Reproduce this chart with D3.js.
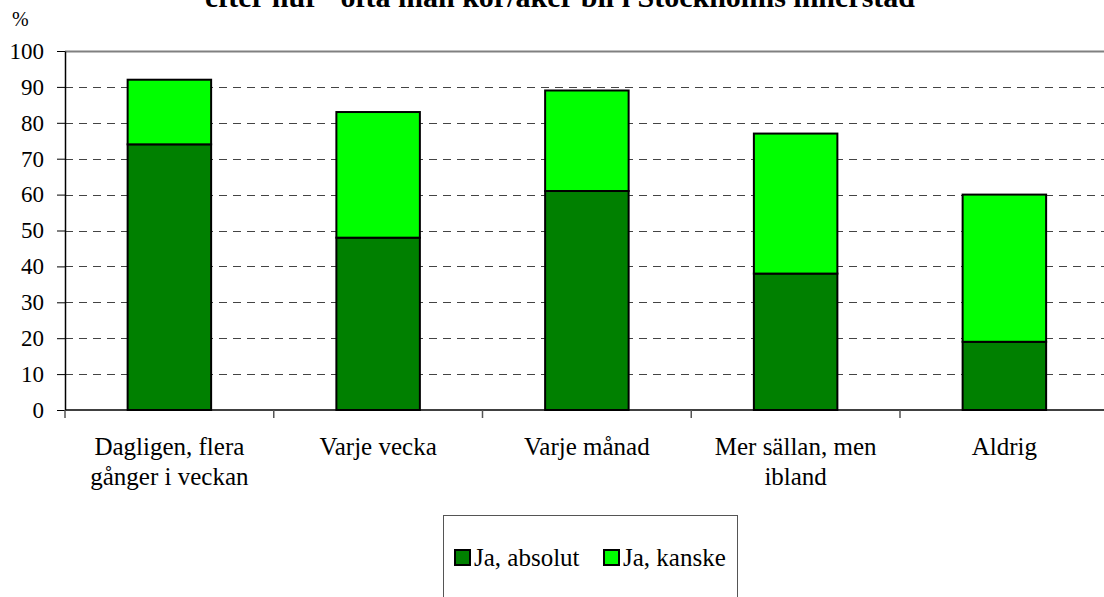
<!DOCTYPE html>
<html lang="sv">
<head>
<meta charset="utf-8">
<title>Bil i innerstaden</title>
<script src="https://cdn.jsdelivr.net/npm/d3@7"></script>
<style>
  body { margin: 0; background: #fff; }
  svg { display: block; }
  svg text { font-family: "Liberation Serif", "Times New Roman", Times, "DejaVu Serif", serif; }
</style>
</head>
<body>
<script>
var categories = ["Dagligen, flera|gånger i veckan", "Varje vecka", "Varje månad", "Mer sällan, men|ibland", "Aldrig"];
var absolut = [74, 48, 61, 38, 19];
var kanske = [18, 35, 28, 39, 41];
var seriesNames = ["Ja, absolut", "Ja, kanske"];
var seriesColors = ["#008000", "#00ff00"];
var yTicks = [0, 10, 20, 30, 40, 50, 60, 70, 80, 90, 100];

var W = 1104, H = 597;
var plotLeft = 65, plotTop = 51, plotBottom = 410;
var bandW = 208.75;

var svg = d3.select("body").append("svg")
  .attr("width", W)
  .attr("height", H);

var x = d3.scaleBand()
  .domain(d3.range(categories.length))
  .range([plotLeft, plotLeft + bandW * categories.length])
  .paddingInner(0.6)
  .paddingOuter(0.3);

var y = d3.scaleLinear().domain([0, 100]).range([plotBottom, plotTop]);

// title (only lower part visible, cut at top)
svg.append("text")
  .attr("x", 560)
  .attr("y", 7)
  .attr("text-anchor", "middle")
  .attr("font-size", 30)
  .attr("font-weight", "bold")
  .text("efter hur \u201dofta man kör/åker bil i Stockholms innerstad");

// grid
svg.append("g").selectAll("line")
  .data(yTicks.filter(function(d) { return d > 0; }))
  .enter().append("line")
  .attr("x1", plotLeft).attr("x2", W)
  .attr("y1", function(d) { return Math.round(y(d)) + 0.5; })
  .attr("y2", function(d) { return Math.round(y(d)) + 0.5; })
  .attr("stroke", function(d) { return d === 100 ? "#808080" : "#444"; })
  .attr("stroke-width", function(d) { return d === 100 ? 2 : 1; })
  .attr("stroke-dasharray", function(d) { return d === 100 ? null : "8,6"; });

// stacked bars
var stackData = categories.map(function(c, i) { return { i: i, a: absolut[i], k: kanske[i] }; });
var stack = d3.stack().keys(["a", "k"])(stackData);

svg.append("g").selectAll("g")
  .data(stack)
  .enter().append("g")
  .attr("fill", function(d, i) { return seriesColors[i]; })
  .selectAll("rect")
  .data(function(d) { return d; })
  .enter().append("rect")
  .attr("x", function(d) { return x(d.data.i); })
  .attr("width", x.bandwidth())
  .attr("y", function(d) { return y(d[1]); })
  .attr("height", function(d) { return y(d[0]) - y(d[1]); })
  .attr("stroke", "#000")
  .attr("stroke-width", 2);

// y axis
var yAxis = svg.append("g")
  .attr("transform", "translate(" + plotLeft + ",0)")
  .call(d3.axisLeft(y).tickValues(yTicks).tickSize(8).tickPadding(13).tickSizeOuter(0));
yAxis.selectAll("text").attr("font-size", 23).attr("fill", "#000");
yAxis.selectAll("line").attr("stroke", "#000");
yAxis.select(".domain").attr("stroke", "#000").attr("stroke-width", 1.5);

// x axis
svg.append("line")
  .attr("x1", plotLeft).attr("x2", W)
  .attr("y1", plotBottom).attr("y2", plotBottom)
  .attr("stroke", "#000").attr("stroke-width", 1.5);

svg.append("g").selectAll("line")
  .data(d3.range(categories.length + 1))
  .enter().append("line")
  .attr("x1", function(d) { return plotLeft + d * bandW; })
  .attr("x2", function(d) { return plotLeft + d * bandW; })
  .attr("y1", plotBottom).attr("y2", plotBottom + 8)
  .attr("stroke", "#555").attr("stroke-width", 1.5);

var xl = svg.append("g").selectAll("text")
  .data(categories)
  .enter().append("text")
  .attr("text-anchor", "middle")
  .attr("font-size", 25)
  .attr("x", function(d, i) { return x(i) + x.bandwidth() / 2; })
  .attr("y", 455);
xl.selectAll("tspan")
  .data(function(d, i) { return d.split("|").map(function(s) { return { s: s, i: i }; }); })
  .enter().append("tspan")
  .attr("x", function(d) { return x(d.i) + x.bandwidth() / 2; })
  .attr("dy", function(d, j) { return j === 0 ? 0 : 30; })
  .text(function(d) { return d.s; });

// % label
svg.append("text").attr("x", 12).attr("y", 26).attr("font-size", 20).text("%");

// legend
var lg = svg.append("g");
lg.append("rect")
  .attr("x", 443.5).attr("y", 515.5).attr("width", 294).attr("height", 100)
  .attr("fill", "#fff").attr("stroke", "#555").attr("stroke-width", 1);
var lgX = [455, 604];
seriesNames.forEach(function(n, i) {
  lg.append("rect")
    .attr("x", lgX[i]).attr("y", 550).attr("width", 15).attr("height", 15)
    .attr("fill", seriesColors[i]).attr("stroke", "#000").attr("stroke-width", 2);
  lg.append("text")
    .attr("x", lgX[i] + 19).attr("y", 566)
    .attr("font-size", 25)
    .text(n);
});
</script>
</body>
</html>
